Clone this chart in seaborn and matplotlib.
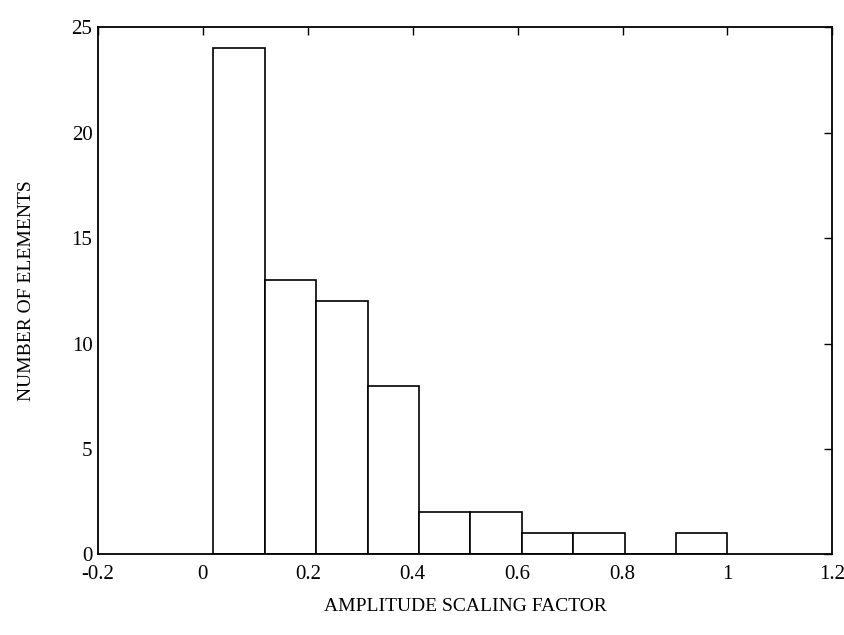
import numpy as np
import pandas as pd
import matplotlib
matplotlib.use("Agg")
import matplotlib.pyplot as plt
import seaborn as sns

# Histogram of amplitude scaling factors: 10 bins between the min and max value
bin_edges = [0.02, 0.118, 0.216, 0.314, 0.412, 0.51, 0.608, 0.706, 0.804, 0.902, 1.0]
counts = [24, 13, 12, 8, 2, 2, 1, 1, 0, 1]
x_ticks = [-0.2, 0, 0.2, 0.4, 0.6, 0.8, 1, 1.2]
x_tick_labels = ["-0.2", "0", "0.2", "0.4", "0.6", "0.8", "1", "1.2"]
y_ticks = [0, 5, 10, 15, 20, 25]

centers = [(a + b) / 2 for a, b in zip(bin_edges[:-1], bin_edges[1:])]
df = pd.DataFrame({"factor": centers, "count": counts})

sns.set_theme(style="white")
plt.rcParams["font.family"] = ["Liberation Serif", "DejaVu Serif"]

fig = plt.figure(figsize=(8.45, 6.35), dpi=100)
ax = fig.add_axes([0.116, 0.127, 0.869, 0.83])

sns.histplot(data=df, x="factor", weights="count", bins=bin_edges,
             stat="count", color="white", edgecolor="black", linewidth=1.2,
             alpha=1.0, ax=ax)

ax.set_xlim(-0.2, 1.2)
ax.set_ylim(0, 25)
ax.set_xticks(x_ticks)
ax.set_xticklabels(x_tick_labels)
ax.set_yticks(y_ticks)
ax.tick_params(direction="in", length=6, width=1, top=True, right=True,
               labelsize=15, colors="black")
ax.tick_params(axis="x", pad=8)
ax.tick_params(axis="y", pad=4)
for s in ax.spines.values():
    s.set_color("black")
    s.set_linewidth(1.3)

ax.set_xlabel("AMPLITUDE SCALING FACTOR", fontsize=14, labelpad=10, color="black")
ax.set_ylabel("NUMBER OF ELEMENTS", fontsize=14, labelpad=26, color="black")

fig.savefig("out.png", dpi=100, facecolor="white")
